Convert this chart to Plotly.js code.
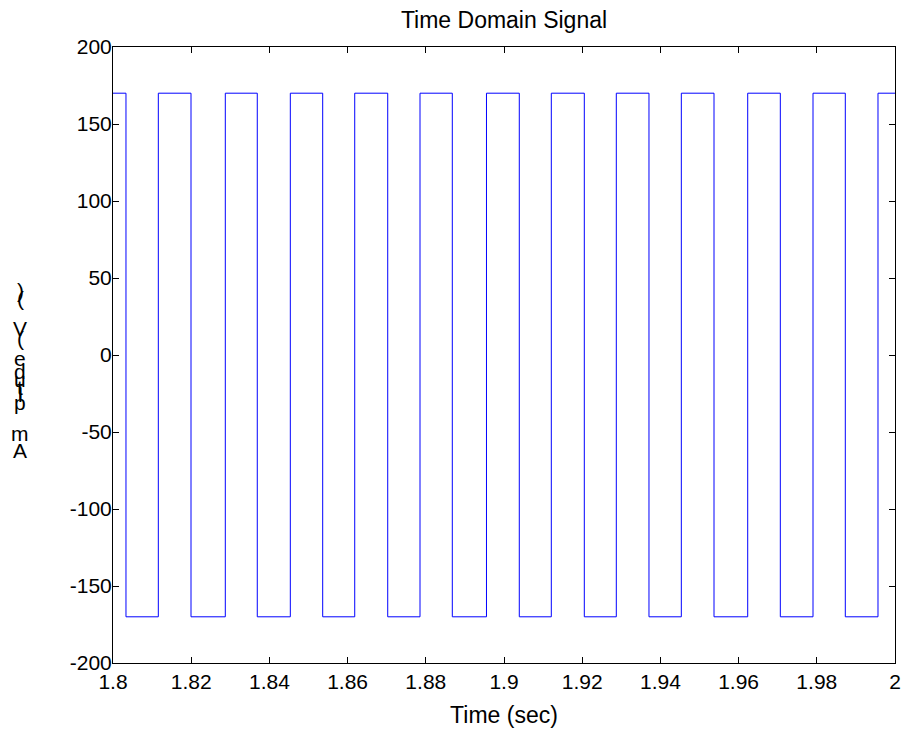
<!DOCTYPE html>
<html>
<head>
<meta charset="utf-8">
<script src="https://cdn.plot.ly/plotly-3.0.1.min.js"></script>
<style>html,body{margin:0;padding:0;background:#fff;}#chart{width:906px;height:730px;}</style>
</head>
<body>
<div id="chart"></div>
<script>
var switchTimes = [1.8, 1.80332, 1.81159, 1.81995, 1.82872, 1.8369, 1.84535, 1.85363, 1.86182,
  1.87026, 1.87852, 1.88678, 1.89552, 1.90391, 1.9121, 1.92054, 1.92872, 1.93708, 1.94535,
  1.95371, 1.96233, 1.97067, 1.97903, 1.98729, 1.99565, 2.0];
var levels = [170, -170, 170, -170, 170, -170, 170, -170, 170, -170, 170, -170, 170, -170,
  170, -170, 170, -170, 170, -170, 170, -170, 170, -170, 170, 170];

var xTickVals = [1.8, 1.82, 1.84, 1.86, 1.88, 1.9, 1.92, 1.94, 1.96, 1.98, 2.0];
var xTickText = ['1.8', '1.82', '1.84', '1.86', '1.88', '1.9', '1.92', '1.94', '1.96', '1.98', '2'];
var yTickVals = [-200, -150, -100, -50, 0, 50, 100, 150, 200];
var yTickText = ['-200', '-150', '-100', '-50', '0', '50', '100', '150', '200'];

var titleText = 'Time Domain Signal';
var xTitleText = 'Time (sec)';
// y-label as drawn in the reference: characters stacked upright (top to bottom)
var yLabelChars = [')', '(', 'V', '(', 'e', 'd', 'u', 't', 'i', 'l', 'p', 'm', 'A'];
var yLabelPx = [290, 298, 328, 338, 358, 371, 379, 387, 391, 394, 402, 433, 450];

var FONT = 'Arial, "Liberation Sans", sans-serif';
var plotLeft = 113, plotRight = 895, plotTop = 47, plotBottom = 663;
var W = 906, H = 730;

var annotations = yLabelChars.map(function (c, i) {
  return {
    text: c, showarrow: false, xref: 'paper', yref: 'paper',
    x: (20 - plotLeft) / (plotRight - plotLeft),
    y: (plotBottom - yLabelPx[i]) / (plotBottom - plotTop),
    xanchor: 'center', yanchor: 'middle',
    font: {family: FONT, size: 21, color: '#000'}
  };
});

var trace = {
  x: switchTimes, y: levels, type: 'scatter', mode: 'lines',
  line: {color: '#0000ff', width: 1, shape: 'hv'}, hoverinfo: 'none'
};

var axisCommon = {
  showline: true, linecolor: '#000', linewidth: 1, mirror: 'ticks',
  ticks: 'inside', ticklen: 6, tickcolor: '#000', tickwidth: 1,
  showgrid: false, zeroline: false, tickmode: 'array',
  tickfont: {family: FONT, size: 21, color: '#000'}
};

var layout = {
  width: W, height: H,
  paper_bgcolor: '#fff', plot_bgcolor: '#fff',
  margin: {l: plotLeft, r: W - plotRight, t: plotTop, b: H - plotBottom, pad: 0},
  showlegend: false,
  title: {text: titleText, x: 0.5, xref: 'paper', xanchor: 'center',
          y: 1 - 20 / H, yref: 'container', yanchor: 'middle',
          font: {family: FONT, size: 23, color: '#000'}},
  xaxis: Object.assign({}, axisCommon, {
    range: [1.8, 2.0], tickvals: xTickVals, ticktext: xTickText,
    title: {text: xTitleText, standoff: 14, font: {family: FONT, size: 23, color: '#000'}}
  }),
  yaxis: Object.assign({}, axisCommon, {
    range: [-200, 200], tickvals: yTickVals, ticktext: yTickText,
    ticklabelstandoff: -4
  }),
  annotations: annotations
};

Plotly.newPlot('chart', [trace], layout, {displayModeBar: false, staticPlot: true});
</script>
</body>
</html>
